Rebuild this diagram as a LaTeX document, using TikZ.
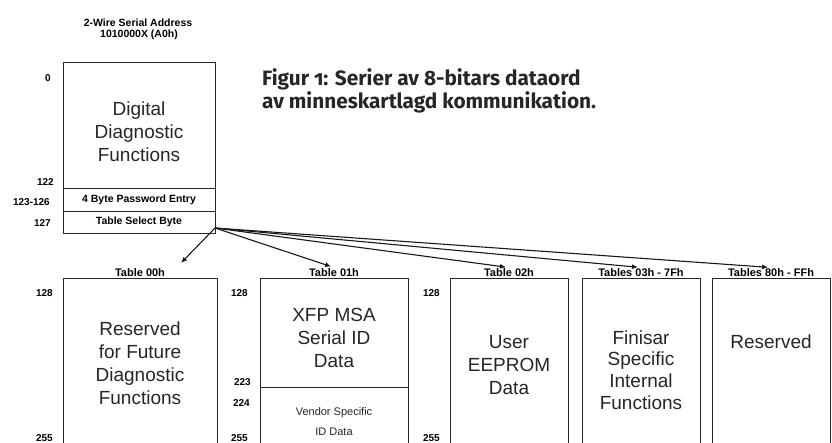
\documentclass[tikz,border=0pt]{standalone}
\usepackage{fontspec}
\setmainfont{Liberation Sans}
\newfontfamily\capfont[Numbers=OldStyle]{Fira Sans}
\usetikzlibrary{arrows.meta}
\tikzset{
  memline/.style={line width=1pt, black!85},
  bigtxt/.style={font=\fontsize{19}{23}\selectfont, align=center, text=black!85},
  midtxt/.style={font=\fontsize{11}{20}\selectfont, align=center, text=black!85},
  smalltxt/.style={font=\bfseries\fontsize{10.5}{12}\selectfont, inner sep=1pt},
  addr/.style={font=\bfseries\fontsize{10}{11}\selectfont, anchor=east, inner sep=1pt},
  tablabel/.style={font=\bfseries\fontsize{11}{12}\selectfont, anchor=south, inner sep=1pt},
  captxt/.style={font=\capfont\bfseries\fontsize{20.8}{23}\selectfont, anchor=base west, inner sep=0pt, text=black!85},
  selarrow/.style={-{Latex[length=6pt,width=5pt]}, line width=1.1pt, black!90},
}
\begin{document}
\begin{tikzpicture}[x=1pt,y=-1pt]
\useasboundingbox[fill=white] (0,0) rectangle (832,442);
% Adresse
\node[smalltxt] (hdr1) at (138,23) {2-Wire Serial Address};
\node[smalltxt] (hdr2) at (139,35) {1010000X (A0h)};

% Bildtext
\node[captxt] (cap1) at (262,85) {Figur 1: Serier av 8-bitars dataord};
\node[captxt] (cap2) at (262,108) {av minneskartlagd kommunikation.};

% Övre minnesområde 0--127
\draw[memline] (63,62) rectangle (215,233);
\draw[memline] (63,188) -- (215,188);
\draw[memline] (63,211) -- (215,211);
\node[bigtxt] (ddf) at (139,132) {Digital\\Diagnostic\\Functions};
\node[smalltxt] (pwd) at (139,200) {4 Byte Password Entry};
\node[smalltxt] (sel) at (139,222) {Table Select Byte};
\coordinate (selbyte) at (215,228);

\node[addr] (a0) at (52,78) {0};
\node[addr] (a122) at (55,182) {122};
\node[addr] (a123) at (51,202) {123-126};
\node[addr] (a127) at (52,223) {127};

% Tabeller 128--255
\foreach \xa/\xb/\name in {63/217/b0, 260/408/b1, 450/568/b2, 582/700/b3, 712/830/b4}
  \draw[memline] (\xa,448) -- (\xa,278) -- (\xb,278) -- (\xb,448);
\draw[memline] (260,387) -- (408,387);

\node[tablabel] (t0) at (140,278) {Table 00h};
\node[tablabel] (t1) at (334,278) {Table 01h};
\node[tablabel] (t2) at (509,278) {Table 02h};
\node[tablabel] (t3) at (641,278) {Tables 03h - 7Fh};
\node[tablabel] (t4) at (771,278) {Tables 80h - FFh};
\coordinate (t0tip) at (181,263);

\node[bigtxt] (rfd) at (140,363) {Reserved\\for Future\\Diagnostic\\Functions};
\node[bigtxt] (sid) at (334,338) {XFP MSA\\Serial ID\\Data};
\node[midtxt] (vid) at (334,422) {Vendor Specific\\ID Data};
\node[bigtxt] (usr) at (509,365) {User\\EEPROM\\Data};
\node[bigtxt, font=\fontsize{19}{21.7}\selectfont] (fin) at (641,370) {Finisar\\Specific\\Internal\\Functions};
\node[bigtxt] (res) at (771,342) {Reserved};

\foreach \xx/\nn in {54/b0, 249/b1, 441/b2} {
  \node[addr] (\nn top) at (\xx,293) {128};
  \node[addr] (\nn bot) at (\xx,438) {255};
}
\node[addr] (a223) at (252,382) {223};
\node[addr] (a224) at (251,403) {224};

% Pilar från Table Select Byte
\draw[selarrow] (selbyte) -- (t0tip);
\foreach \t in {t1,t2,t3,t4}
  \draw[selarrow, shorten >=3pt] (selbyte) -- (\t.north);
\end{tikzpicture}
\end{document}
